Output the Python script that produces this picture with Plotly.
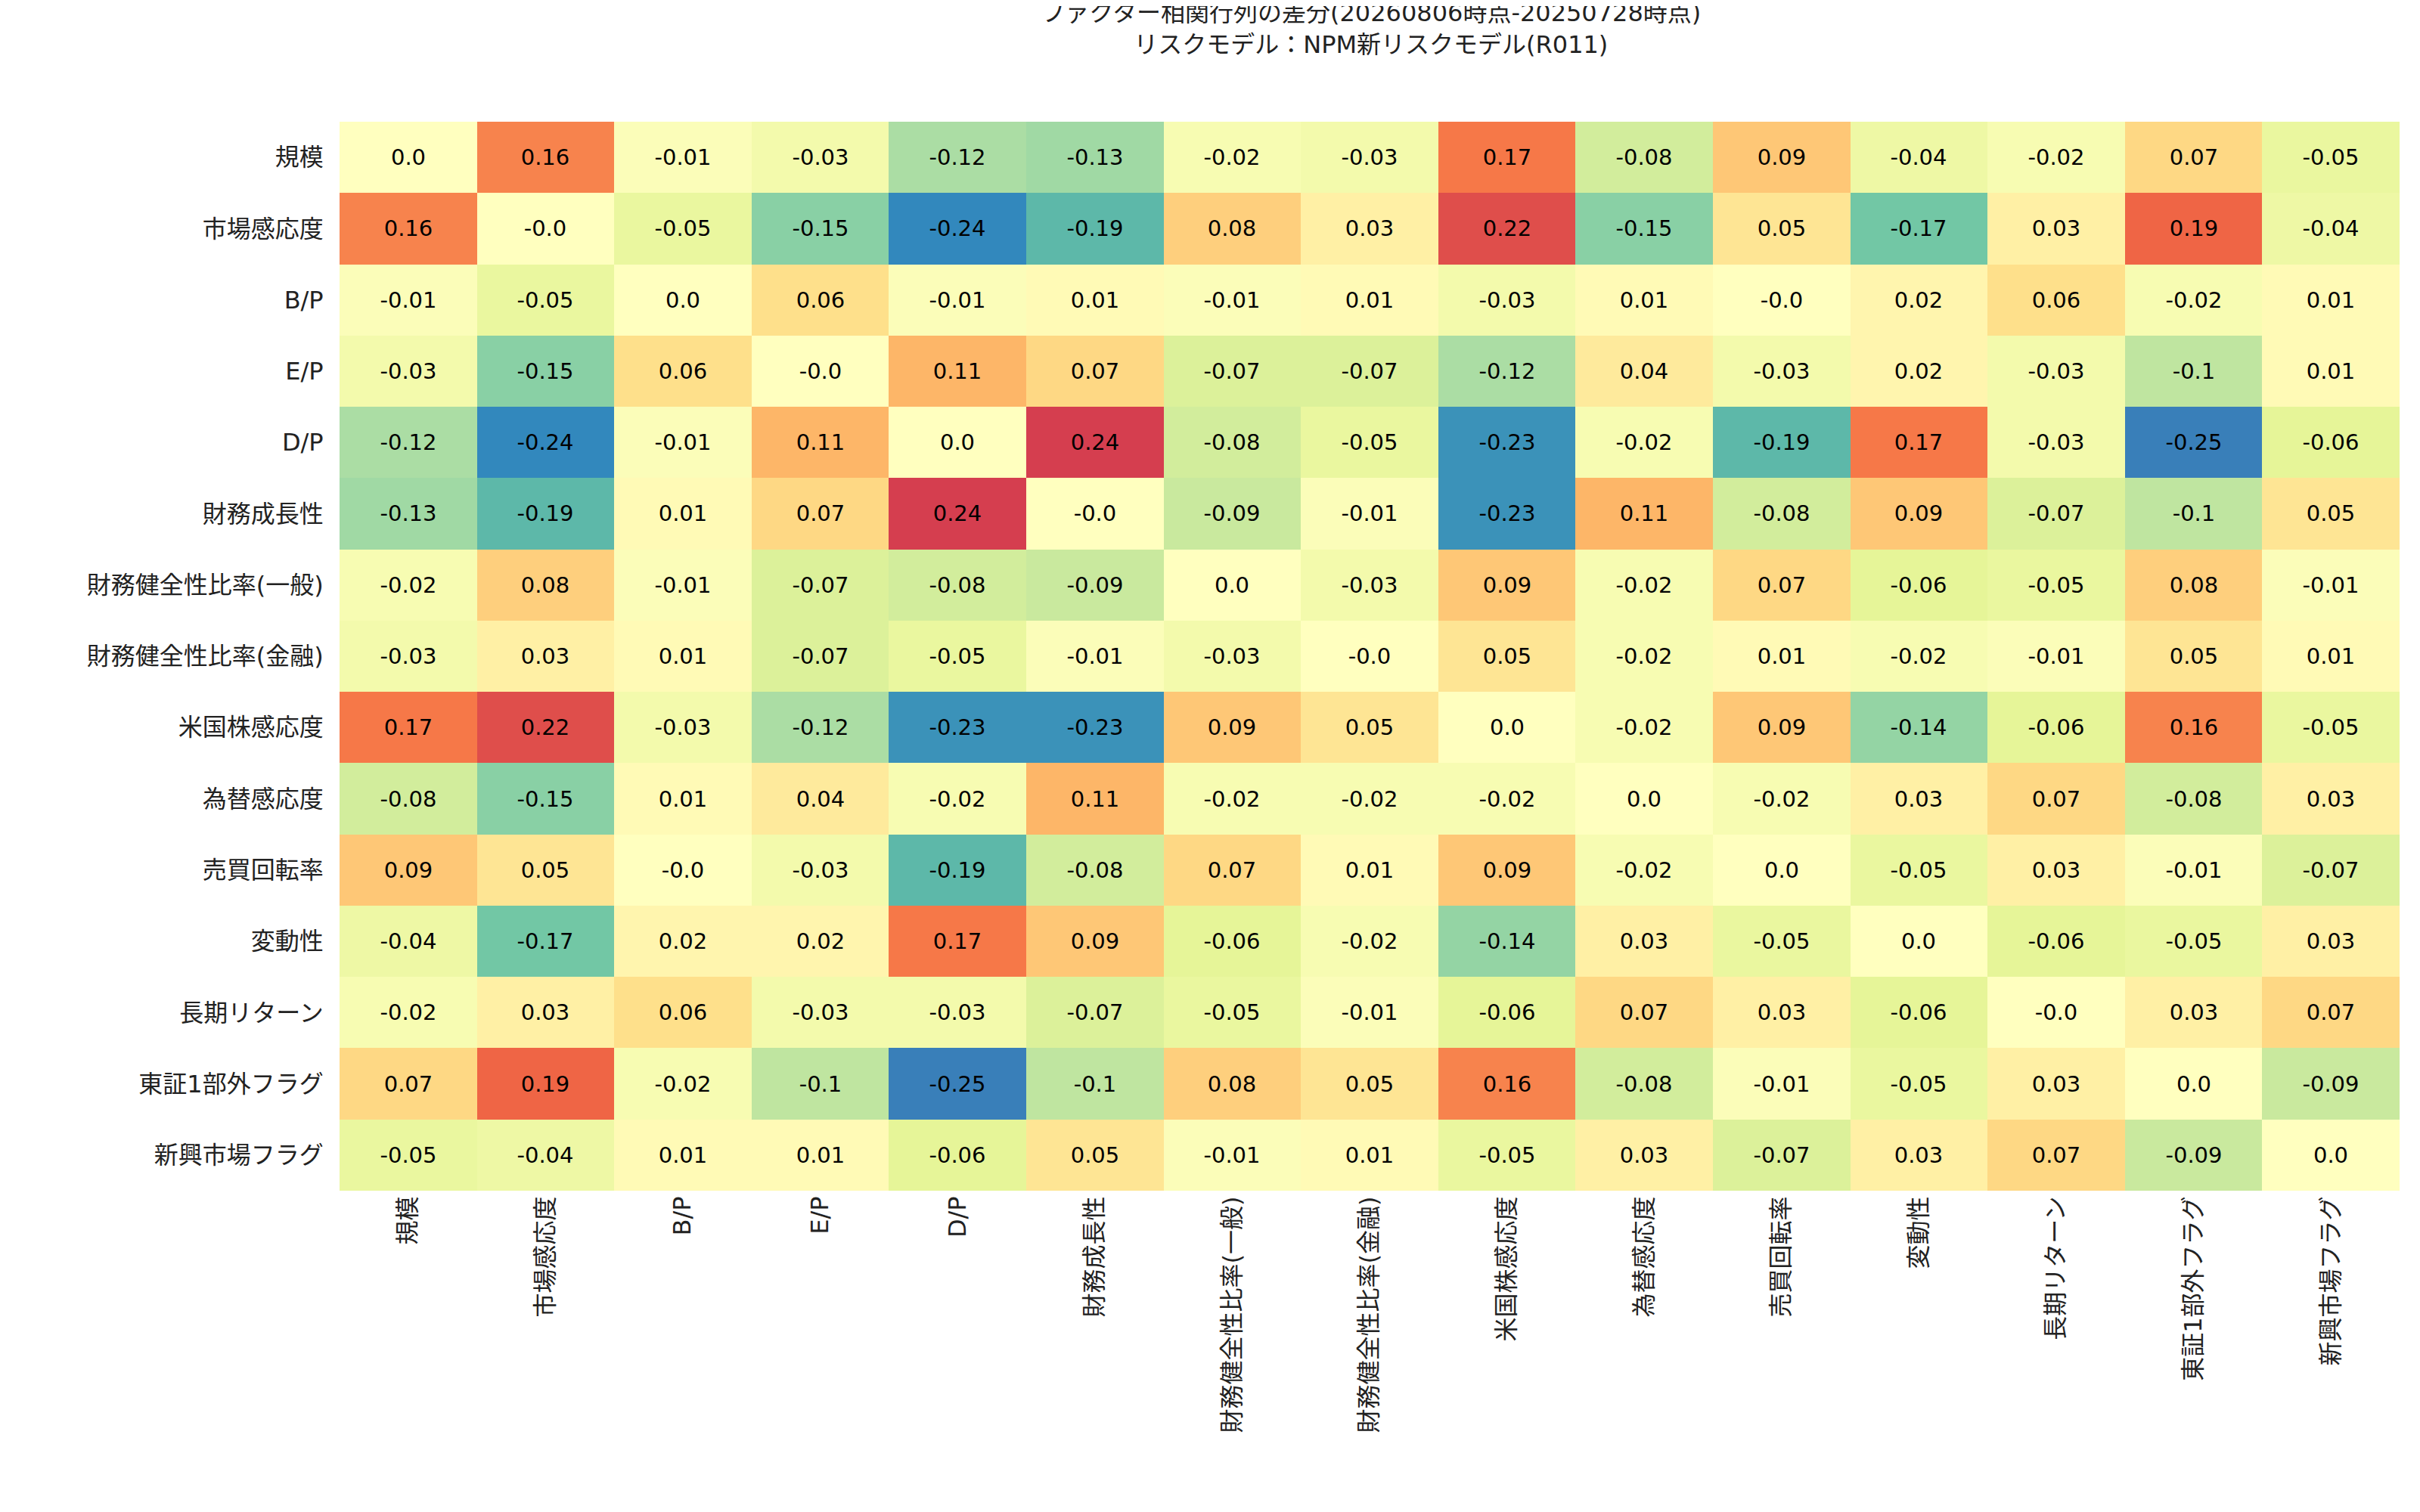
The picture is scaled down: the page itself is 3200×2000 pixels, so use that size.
import plotly.graph_objects as go

factors = ["規模", "市場感応度", "B/P", "E/P", "D/P", "財務成長性", "財務健全性比率(一般)",
           "財務健全性比率(金融)", "米国株感応度", "為替感応度", "売買回転率", "変動性",
           "長期リターン", "東証1部外フラグ", "新興市場フラグ"]

# 差分値（表示通りの文字列）
diff_text = [
    ["0.0", "0.16", "-0.01", "-0.03", "-0.12", "-0.13", "-0.02", "-0.03", "0.17", "-0.08", "0.09", "-0.04", "-0.02", "0.07", "-0.05"],
    ["0.16", "-0.0", "-0.05", "-0.15", "-0.24", "-0.19", "0.08", "0.03", "0.22", "-0.15", "0.05", "-0.17", "0.03", "0.19", "-0.04"],
    ["-0.01", "-0.05", "0.0", "0.06", "-0.01", "0.01", "-0.01", "0.01", "-0.03", "0.01", "-0.0", "0.02", "0.06", "-0.02", "0.01"],
    ["-0.03", "-0.15", "0.06", "-0.0", "0.11", "0.07", "-0.07", "-0.07", "-0.12", "0.04", "-0.03", "0.02", "-0.03", "-0.1", "0.01"],
    ["-0.12", "-0.24", "-0.01", "0.11", "0.0", "0.24", "-0.08", "-0.05", "-0.23", "-0.02", "-0.19", "0.17", "-0.03", "-0.25", "-0.06"],
    ["-0.13", "-0.19", "0.01", "0.07", "0.24", "-0.0", "-0.09", "-0.01", "-0.23", "0.11", "-0.08", "0.09", "-0.07", "-0.1", "0.05"],
    ["-0.02", "0.08", "-0.01", "-0.07", "-0.08", "-0.09", "0.0", "-0.03", "0.09", "-0.02", "0.07", "-0.06", "-0.05", "0.08", "-0.01"],
    ["-0.03", "0.03", "0.01", "-0.07", "-0.05", "-0.01", "-0.03", "-0.0", "0.05", "-0.02", "0.01", "-0.02", "-0.01", "0.05", "0.01"],
    ["0.17", "0.22", "-0.03", "-0.12", "-0.23", "-0.23", "0.09", "0.05", "0.0", "-0.02", "0.09", "-0.14", "-0.06", "0.16", "-0.05"],
    ["-0.08", "-0.15", "0.01", "0.04", "-0.02", "0.11", "-0.02", "-0.02", "-0.02", "0.0", "-0.02", "0.03", "0.07", "-0.08", "0.03"],
    ["0.09", "0.05", "-0.0", "-0.03", "-0.19", "-0.08", "0.07", "0.01", "0.09", "-0.02", "0.0", "-0.05", "0.03", "-0.01", "-0.07"],
    ["-0.04", "-0.17", "0.02", "0.02", "0.17", "0.09", "-0.06", "-0.02", "-0.14", "0.03", "-0.05", "0.0", "-0.06", "-0.05", "0.03"],
    ["-0.02", "0.03", "0.06", "-0.03", "-0.03", "-0.07", "-0.05", "-0.01", "-0.06", "0.07", "0.03", "-0.06", "-0.0", "0.03", "0.07"],
    ["0.07", "0.19", "-0.02", "-0.1", "-0.25", "-0.1", "0.08", "0.05", "0.16", "-0.08", "-0.01", "-0.05", "0.03", "0.0", "-0.09"],
    ["-0.05", "-0.04", "0.01", "0.01", "-0.06", "0.05", "-0.01", "0.01", "-0.05", "0.03", "-0.07", "0.03", "0.07", "-0.09", "0.0"],
]
diff_vals = [[float(v) for v in row] for row in diff_text]

font = "DejaVu Sans, Noto Sans CJK JP"

fig = go.Figure(go.Heatmap(
    z=diff_vals, x=factors, y=factors, text=diff_text,
    texttemplate="%{text}", textfont=dict(size=29, color="black", family=font),
    colorscale="Spectral", reversescale=True, zmin=-0.3, zmax=0.3,
    showscale=False, xgap=0, ygap=0,
))

fig.update_layout(
    width=3200, height=2000,
    paper_bgcolor="white", plot_bgcolor="white",
    font=dict(family=font, size=32, color="#222"),
    title=dict(text="ファクター相関行列の差分(20260806時点-20250728時点)<br>リスクモデル：NPM新リスクモデル(R011)",
               x=0.564, xanchor="center", y=0.99, yanchor="top", font=dict(size=32)),
    margin=dict(l=441, r=35, t=153, b=433),
)
fig.update_xaxes(tickangle=-90, showgrid=False, ticks="", ticklen=0)
fig.update_yaxes(autorange="reversed", showgrid=False, ticks="", ticksuffix="  ")

fig.write_html("out.html")
